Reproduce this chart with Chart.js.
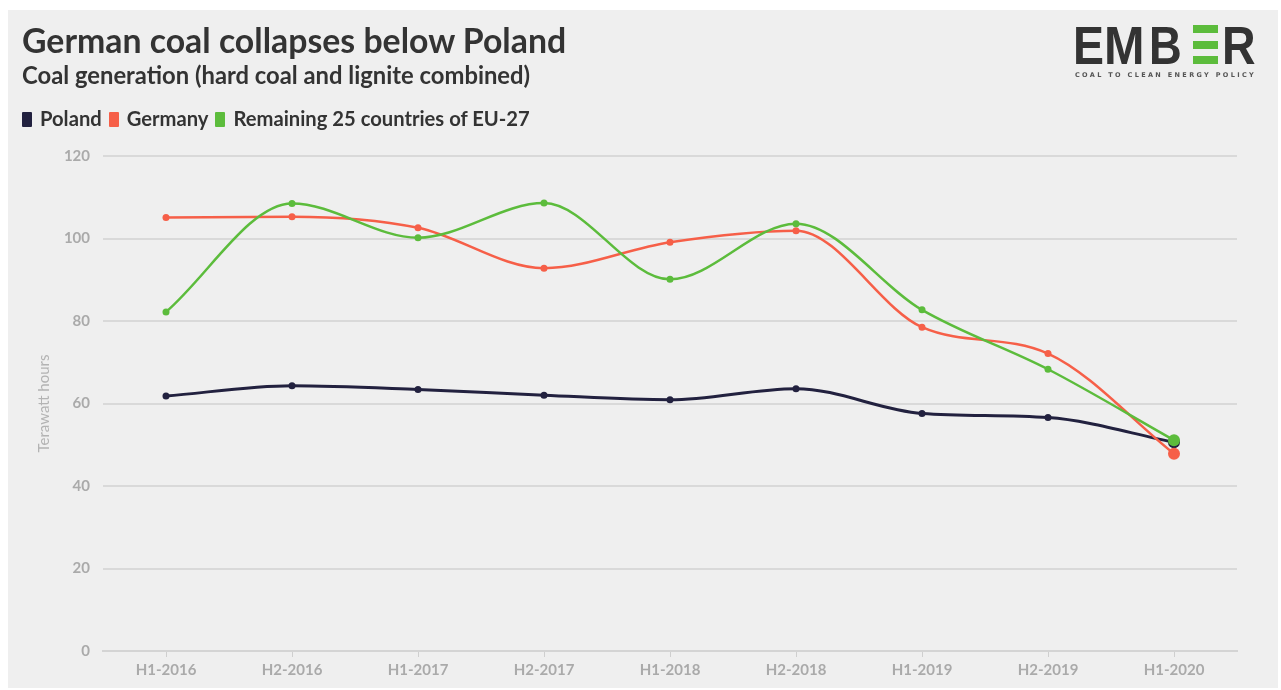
<!DOCTYPE html>
<html>
<head>
<meta charset="utf-8">
<script src="https://cdn.jsdelivr.net/npm/chart.js@4/dist/chart.umd.min.js"></script>
<style>
  html, body { margin: 0; padding: 0; background: #fff; }
  body { width: 1281px; height: 690px; position: relative; overflow: hidden; font-family: Lato, "Noto Sans", sans-serif; }
  #panel { position: absolute; left: 8px; top: 10px; width: 1270px; height: 678px; background: #efefef; }
  #chartWrap { position: absolute; left: 0; top: 0; width: 1281px; height: 690px; }
  .title { position: absolute; left: 22px; top: 20px; font-size: 33.8px; font-weight: 700; color: #333; white-space: nowrap; }
  .subtitle { position: absolute; left: 22px; top: 61px; font-size: 23.8px; font-weight: 700; color: #333; white-space: nowrap; }
  .legend { position: absolute; left: 22px; top: 106px; font-size: 20.2px; font-weight: 700; color: #333; white-space: nowrap; }
  .legend span.sw { display: inline-block; width: 10px; height: 15px; margin-right: 8px; vertical-align: -1px; border-radius: 1px; }
  .legend span.item { margin-right: 7px; }
  .lg { position: absolute; top: 18px; font-family: "Liberation Sans", Arial, sans-serif; font-size: 54px; line-height: 54px; font-weight: 700; color: #333; transform-origin: left top; }
  .bar { position: absolute; left: 1193px; width: 25px; height: 8px; background: #5cbc3c; }
  .tag { position: absolute; left: 1075px; top: 71px; font-size: 6.5px; font-weight: 700; color: #555; letter-spacing: 2.35px; white-space: nowrap; font-family: "DejaVu Sans", sans-serif; }
</style>
</head>
<body>
<div id="panel"></div>
<div id="chartWrap"><canvas id="coal" width="1281" height="690"></canvas></div>
<div class="title">German coal collapses below Poland</div>
<div class="subtitle">Coal generation (hard coal and lignite combined)</div>
<div class="legend" id="legend"></div>
<div class="lg" style="left:1073px;transform:scaleX(0.86)">E</div>
<div class="lg" style="left:1104px;transform:scaleX(0.9)">M</div>
<div class="lg" style="left:1149px;transform:scaleX(0.84)">B</div>
<div class="bar" style="top:25px"></div>
<div class="bar" style="top:41px"></div>
<div class="bar" style="top:56px"></div>
<div class="lg" style="left:1222px;transform:scaleX(0.86)">R</div>
<div class="tag">COAL TO CLEAN ENERGY POLICY</div>

<script>
    // half-year periods
    const periods = ["H1-2016", "H2-2016", "H1-2017", "H2-2017", "H1-2018", "H2-2018", "H1-2019", "H2-2019", "H1-2020"];

    // TWh
    const poland = [61.8, 64.3, 63.4, 62.0, 60.9, 63.6, 57.6, 56.6, 50.6];
    const germany = [105.1, 105.3, 102.6, 92.8, 99.1, 101.9, 78.5, 72.1, 47.8];
    const restOfEU = [82.2, 108.5, 100.2, 108.6, 90.1, 103.6, 82.7, 68.3, 51.1];

    const yTicks = [0, 20, 40, 60, 80, 100, 120];

    const seriesNames = ["Poland", "Germany", "Remaining 25 countries of EU-27"];
    const seriesColors = ["#22213f", "#f65f48", "#5cbc3c"];

    // legend in html, the chart.js one can't be placed like the original
    let legendHtml = "";
    seriesNames.map(function (name, i) {
        legendHtml += `<span class="item"><span class="sw" style="background:${seriesColors[i]}"></span>${name}</span>`;
    });
    document.getElementById("legend").innerHTML = legendHtml;

    const lastIdx = periods.length - 1;
    function makeSet(label, data, color, order, width) {
        return {
            label: label,
            data: data,
            borderColor: color,
            backgroundColor: color,
            borderWidth: width,
            cubicInterpolationMode: "monotone",
            order: order,
            pointRadius: function (ctx) { return ctx.dataIndex === lastIdx ? 6 : 3.5; },
            pointBorderWidth: 0,
            fill: false
        };
    }

    new Chart(document.getElementById("coal"), {
        type: "line",
        data: {
            labels: periods,
            datasets: [
                makeSet(seriesNames[0], poland, seriesColors[0], 2, 3),
                makeSet(seriesNames[1], germany, seriesColors[1], 1, 2.5),
                makeSet(seriesNames[2], restOfEU, seriesColors[2], 0, 2.5)
            ]
        },
        options: {
            responsive: false,
            animation: false,
            layout: { padding: { top: 156, right: 44, left: 0, bottom: 0 } },
            plugins: {
                legend: { display: false },
                tooltip: { enabled: false }
            },
            scales: {
                x: {
                    offset: true,
                    afterFit: function (scale) { scale.height = 39; },
                    grid: {
                        drawOnChartArea: false,
                        drawTicks: true,
                        tickLength: 6,
                        color: "#cfcfcf",
                        lineWidth: 1
                    },
                    border: { display: true, color: "#d4d4d4", width: 2 },
                    ticks: {
                        color: "#aaaaaa",
                        padding: 4,
                        font: { family: "Lato", size: 15, weight: "bold" },
                        maxRotation: 0,
                        autoSkip: false
                    }
                },
                y: {
                    min: 0,
                    max: 120,
                    afterFit: function (scale) { scale.width = 103; },
                    afterBuildTicks: function (scale) {
                        scale.ticks = yTicks.map(function (v) { return { value: v }; });
                    },
                    grid: {
                        drawTicks: false,
                        color: "#d9d9d9",
                        lineWidth: 2
                    },
                    border: { display: false },
                    ticks: {
                        color: "#aaaaaa",
                        padding: 13,
                        font: { family: "Lato", size: 15, weight: "bold" }
                    },
                    title: {
                        display: true,
                        text: "Terawatt hours",
                        color: "#b3b3b3",
                        padding: { top: 35, bottom: 0 },
                        font: { family: "Lato", size: 15 }
                    }
                }
            }
        }
    });
</script>
</body>
</html>
